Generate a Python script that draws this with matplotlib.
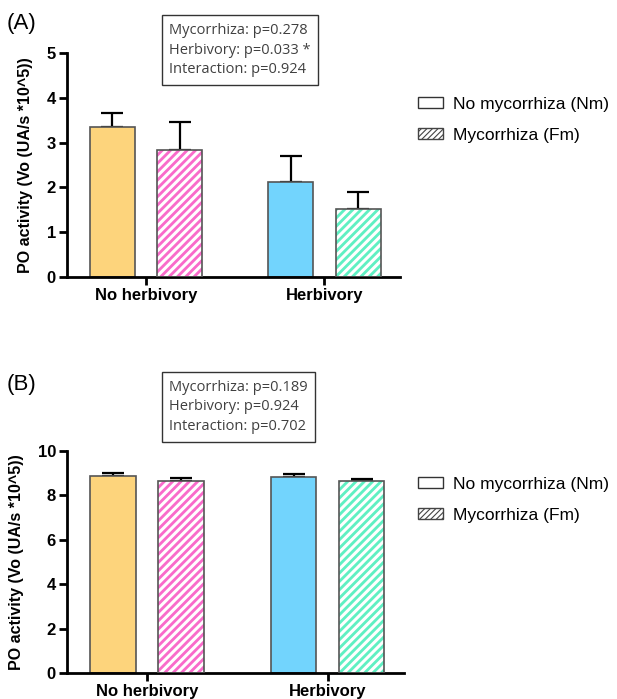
import matplotlib.pyplot as plt
from matplotlib.patches import Patch

plt.rcParams["font.family"] = ["Liberation Sans", "DejaVu Sans"]

# data
groups = ["No herbivory", "Herbivory"]
colors = ["#FDD47C", "#F96BCB", "#72D4FD", "#5FF0C3"]
mean_a = [3.35, 2.83, 2.13, 1.52]
err_a = [0.31, 0.63, 0.58, 0.37]
mean_b = [8.87, 8.63, 8.81, 8.67]
err_b = [0.13, 0.17, 0.15, 0.08]
stats_a = "Mycorrhiza: p=0.278\nHerbivory: p=0.033 *\nInteraction: p=0.924"
stats_b = "Mycorrhiza: p=0.189\nHerbivory: p=0.924\nInteraction: p=0.702"
legend_labels = ["No mycorrhiza (Nm)", "Mycorrhiza (Fm)"]

fig = plt.figure(figsize=(6.17, 6.99), dpi=100)

W, H = 617, 699


def panel(rect, means, errs, ymax, step, stats, label, label_y, box_y, leg_y):
    l, r, t, b = rect
    ax = fig.add_axes([l / W, 1 - b / H, (r - l) / W, (b - t) / H])
    xpos = [-0.188, 0.188, 1 - 0.188, 1 + 0.188]
    hatched = [False, True, False, True]
    plt.rcParams["hatch.linewidth"] = 2.2
    for x, m, e, c, h in zip(xpos, means, errs, colors, hatched):
        ax.errorbar(x, m, yerr=[[0], [e]], color="black", lw=1.6,
                    capsize=8, capthick=1.6, zorder=1)
        if h:
            ax.bar(x, m, width=0.252, color=c, edgecolor="white", hatch="////",
                   linewidth=0, zorder=2)
            ax.bar(x, m, width=0.252, fill=False, edgecolor="#555555",
                   linewidth=1.2, zorder=3)
        else:
            ax.bar(x, m, width=0.252, color=c, edgecolor="#555555",
                   linewidth=1.2, zorder=2)
    ax.set_xlim(-0.4426, 1.423)
    ax.set_ylim(0, ymax)
    ax.set_yticks(range(0, ymax + 1, step))
    ax.set_xticks([0, 1])
    ax.set_xticklabels(groups, fontsize=12, fontweight="bold")
    for tl in ax.get_yticklabels():
        tl.set_fontweight("bold")
        tl.set_fontsize(12)
    ax.tick_params(axis="both", width=2, length=6, color="black", pad=2)
    ax.spines["top"].set_visible(False)
    ax.spines["right"].set_visible(False)
    ax.spines["left"].set_linewidth(2)
    ax.spines["bottom"].set_linewidth(2)
    ax.set_ylabel("PO activity (Vo (UA/s *10^5))", fontsize=11.5,
                  fontweight="bold", labelpad=10)
    fig.text(7 / W, 1 - label_y / H, label, fontsize=16, va="center", ha="left")
    # stats box, lines left aligned
    fig.text(169 / W, 1 - box_y / H, stats, fontsize=10.5, ha="left", va="center",
             multialignment="left",
             family=["Open Sans", "DejaVu Sans"], color="#404040", linespacing=1.45,
             bbox=dict(boxstyle="square,pad=0.5", facecolor="white",
                       edgecolor="#333333", linewidth=1))
    plt.rcParams["hatch.linewidth"] = 0.8
    handles = [Patch(facecolor="white", edgecolor="#333333", linewidth=1),
               Patch(facecolor="white", edgecolor="#444444", hatch="//////",
                     linewidth=1)]
    fig.legend(handles, legend_labels, loc="upper left",
               bbox_to_anchor=(402 / W, 1 - leg_y / H), frameon=False,
               fontsize=12.5, handlelength=1.45, handleheight=0.65,
               labelspacing=0.92, handletextpad=0.6)
    return ax


panel((67, 400, 53, 277), mean_a, err_a, 5, 1, stats_a, "(A)", 24, 50, 81)
panel((67, 404, 451, 673), mean_b, err_b, 10, 2, stats_b, "(B)", 385, 407, 461)

fig.savefig("out.png", dpi=100)
